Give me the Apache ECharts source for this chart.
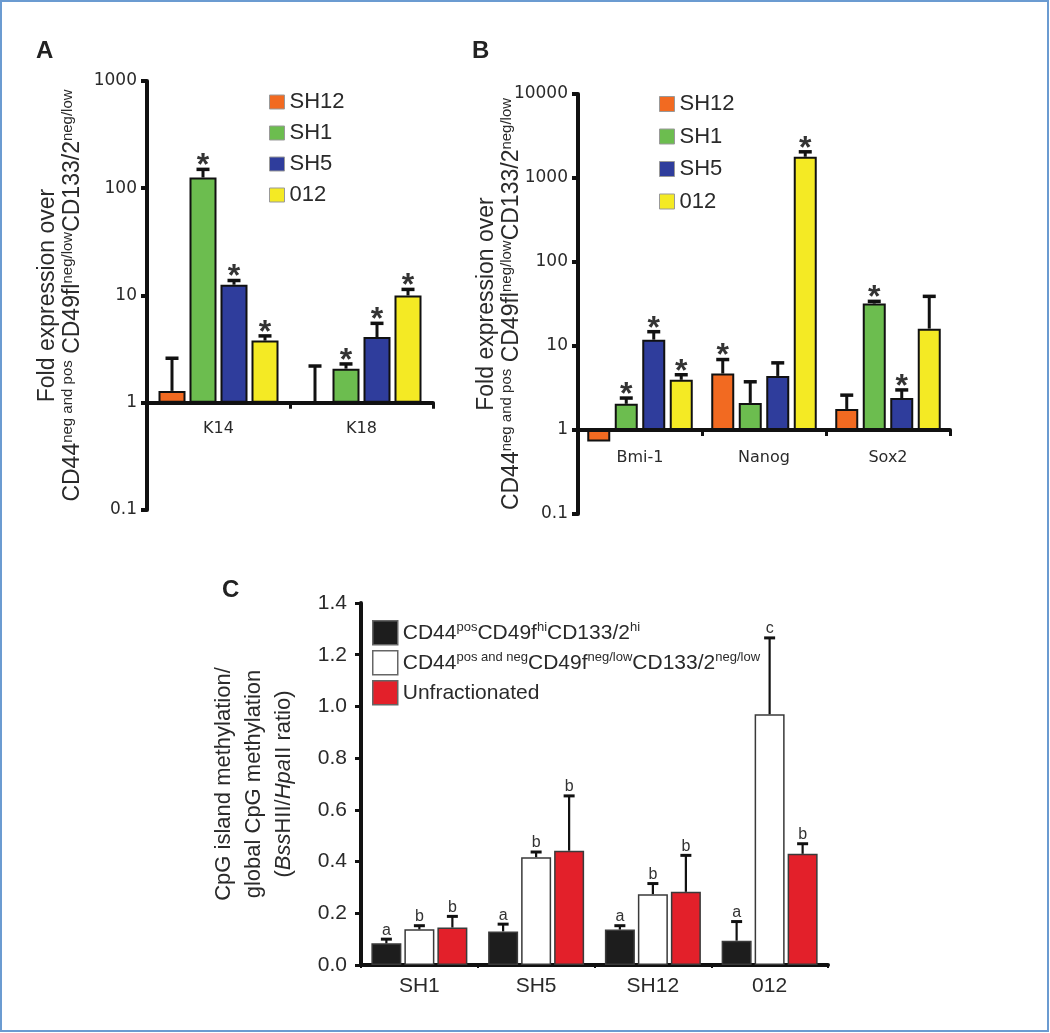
<!DOCTYPE html>
<html><head><meta charset="utf-8">
<script src="https://cdn.jsdelivr.net/npm/echarts@6/dist/echarts.min.js"></script>
<style>html,body{margin:0;padding:0;background:#fff}#c{width:1050px;height:1033px}</style>
</head><body><div id="c"></div>
<script>
// ---------- data ----------
const seriesAB = ['SH12', 'SH1', 'SH5', '012'];

const catsA = ['K14', 'K18'];
const aSH12 = [1.29, 1.0];
const aSH1 = [126, 2.08];
const aSH5 = [12.6, 4.1];
const a012 = [3.8, 10.0];
const aSH12Err = [2.6, 2.2];
const aSH1Err = [150, 2.3];
const aSH5Err = [13.8, 5.5];
const a012Err = [4.2, 11.4];
const aSH12Star = ['', ''];
const aSH1Star = ['*', '*'];
const aSH5Star = ['*', '*'];
const a012Star = ['*', '*'];

const catsB = ['Bmi-1', 'Nanog', 'Sox2'];
const bSH12 = [0.73, 4.7, 1.78];
const bSH1 = [2.05, 2.1, 32];
const bSH5 = [11.9, 4.4, 2.4];
const b012 = [3.96, 1790, 16.1];
const bSH12Err = [null, 6.9, 2.6];
const bSH1Err = [2.4, 3.75, 34];
const bSH5Err = [14.8, 6.3, 3.0];
const b012Err = [4.55, 2050, 39];
const bSH12Star = ['', '*', ''];
const bSH1Star = ['*', '', '*'];
const bSH5Star = ['*', '', '*'];
const b012Star = ['*', '*', ''];

const catsC = ['SH1', 'SH5', 'SH12', '012'];
const seriesC = ['CD44posCD49fhiCD133/2hi', 'CD44pos and negCD49fneg/lowCD133/2neg/low', 'Unfractionated'];
const cHi = [0.084, 0.13, 0.137, 0.094];
const cNeg = [0.138, 0.417, 0.274, 0.97];
const cUnf = [0.145, 0.442, 0.283, 0.43];
const cHiErr = [0.1, 0.158, 0.152, 0.168];
const cNegErr = [0.152, 0.437, 0.315, 1.265];
const cUnfErr = [0.188, 0.654, 0.424, 0.469];
const cHiLetter = ['a', 'a', 'a', 'a'];
const cNegLetter = ['b', 'b', 'b', 'c'];
const cUnfLetter = ['b', 'b', 'b', 'b'];

// ---------- styles ----------
const colorsAB = ['#f26a21', '#6cbd4f', '#2f3d9c', '#f4ea24'];
const colorsC = ['#1d1d1d', '#ffffff', '#e3202a'];
const SANS = 'Liberation Sans';
const VERD = 'DejaVu Sans';
const INK = '#111';
const TXT = '#2a2a2a';

const A = { left: 147, top: 81, width: 286, height: 429, min: 0.1, max: 1000, bw: 27, gap: 4 };
const B = { left: 578, top: 94, width: 372, height: 420, min: 0.1, max: 10000, bw: 23, gap: 4.5 };
const C = { left: 361, top: 603, width: 467, height: 362, bw: 30, gap: 3 };

function logOffset(p) {
  return -p.height * (0 - Math.log10(p.min)) / (Math.log10(p.max) - Math.log10(p.min));
}
function logFmt(v) {
  const r = Math.round(Math.log10(v));
  return String(+Math.pow(10, r).toFixed(Math.max(0, -r)));
}

function barSeries(name, data, color, gi, p, border) {
  return {
    type: 'bar', name, data, xAxisIndex: gi, yAxisIndex: gi,
    barWidth: p.bw, barGap: (p.gap / p.bw * 100) + '%',
    itemStyle: { color, borderColor: border.c, borderWidth: border.w },
    z: 2, silent: true, animation: false
  };
}

function errSeries(name, data, errs, marks, k, n, gi, p, o) {
  return {
    type: 'custom', name: name + ' err', xAxisIndex: gi, yAxisIndex: gi, z: 5,
    silent: true, animation: false,
    data: data.map((v, i) => [i, v]),
    renderItem(params, api) {
      const idx = params.dataIndex;
      const v = data[idx], e = errs[idx], mark = marks[idx];
      const pt = api.coord([idx, v]);
      const x = pt[0] + (k - (n - 1) / 2) * (p.bw + p.gap);
      const yv = pt[1];
      const children = [];
      let topY = Math.min(yv, api.coord([idx, p.base])[1]);
      if (e != null) {
        const ye = api.coord([idx, e])[1];
        children.push({ type: 'line', shape: { x1: x, y1: yv, x2: x, y2: ye }, style: { stroke: INK, lineWidth: o.stem } });
        children.push({ type: 'line', shape: { x1: x - o.cap / 2, y1: ye, x2: x + o.cap / 2, y2: ye }, style: { stroke: INK, lineWidth: o.capW } });
        topY = ye;
      }
      if (mark) {
        children.push({ type: 'text', style: { text: mark, x, y: topY + o.dy, align: 'center', verticalAlign: o.va, font: o.font, fill: o.fill } });
      }
      return { type: 'group', children };
    }
  };
}

A.base = 1; B.base = 1; C.base = 0;
const starOpt = { stem: 3, cap: 13, capW: 3.5, dy: -3, va: 'middle', font: 'bold 32px ' + SANS, fill: '#333' };
const letterOpt = { stem: 2.2, cap: 11, capW: 3, dy: -1, va: 'bottom', font: '16px ' + SANS, fill: '#333' };

const series = [];
const aVals = [aSH12, aSH1, aSH5, a012], aErrs = [aSH12Err, aSH1Err, aSH5Err, a012Err], aStars = [aSH12Star, aSH1Star, aSH5Star, a012Star];
const bVals = [bSH12, bSH1, bSH5, b012], bErrs = [bSH12Err, bSH1Err, bSH5Err, b012Err], bStars = [bSH12Star, bSH1Star, bSH5Star, b012Star];
seriesAB.forEach((nm, k) => {
  series.push(barSeries(nm, aVals[k], colorsAB[k], 0, A, { c: INK, w: 2 }));
  series.push(errSeries(nm, aVals[k], aErrs[k], aStars[k], k, 4, 0, A, starOpt));
});
seriesAB.forEach((nm, k) => {
  series.push(barSeries(nm, bVals[k], colorsAB[k], 1, B, { c: INK, w: 2 }));
  series.push(errSeries(nm, bVals[k], bErrs[k], bStars[k], k, 4, 1, B, starOpt));
});
const cVals = [cHi, cNeg, cUnf], cErrs = [cHiErr, cNegErr, cUnfErr], cLets = [cHiLetter, cNegLetter, cUnfLetter];
seriesC.forEach((nm, k) => {
  series.push(barSeries(nm, cVals[k], colorsC[k], 2, C, { c: '#3a3a3a', w: 1.5 }));
  series.push(errSeries(nm, cVals[k], cErrs[k], cLets[k], k, 3, 2, C, letterOpt));
});

const richMain = {
  t: { fontSize: 23, fontFamily: SANS, color: TXT, lineHeight: 25 },
  s: { fontSize: 15, fontFamily: SANS, color: TXT, lineHeight: 14, verticalAlign: 'top' }
};
const abName = '{t|Fold expression over}\n{t|CD44}{s|neg and pos}{t| CD49fl}{s|neg/low}{t|CD133/2}{s|neg/low}';

function yLog(gi, p, nameGap, moveOverlap) {
  return {
    type: 'log', gridIndex: gi, logBase: 10, min: p.min, max: p.max,
    axisLine: { show: true, lineStyle: { color: INK, width: 4 } },
    axisTick: { show: true, length: 6, lineStyle: { color: INK, width: 4 } },
    minorTick: { show: false }, splitLine: { show: false },
    axisLabel: { fontSize: 17, fontFamily: VERD, color: TXT, margin: 10, formatter: logFmt },
    name: abName, nameLocation: 'middle', nameRotate: 90, nameGap,
    nameMoveOverlap: moveOverlap,
    nameTextStyle: { rich: richMain, align: 'center' }
  };
}
function xCat(gi, cats, offset, margin) {
  return {
    type: 'category', gridIndex: gi, data: cats, offset,
    axisLine: { show: true, lineStyle: { color: INK, width: 4 } },
    axisTick: { show: true, length: 6, interval: 0, lineStyle: { color: INK, width: 3 } },
    axisLabel: { fontSize: 16, fontFamily: VERD, color: TXT, margin, interval: 0 },
    splitLine: { show: false }
  };
}

const legendRich = {
  t: { fontSize: 21, fontFamily: SANS, color: TXT, lineHeight: 24 },
  s: { fontSize: 13, fontFamily: SANS, color: TXT, lineHeight: 12, verticalAlign: 'top' }
};
const legendCText = {
  'CD44posCD49fhiCD133/2hi': '{t|CD44}{s|pos}{t|CD49f}{s|hi}{t|CD133/2}{s|hi}',
  'CD44pos and negCD49fneg/lowCD133/2neg/low': '{t|CD44}{s|pos and neg}{t|CD49f}{s|neg/low}{t|CD133/2}{s|neg/low}',
  'Unfractionated': '{t|Unfractionated}'
};

const option = {
  backgroundColor: '#ffffff',
  animation: false,
  grid: [
    { left: A.left, top: A.top, width: A.width, height: A.height },
    { left: B.left, top: B.top, width: B.width, height: B.height },
    { left: C.left, top: C.top, width: C.width, height: C.height }
  ],
  xAxis: [
    xCat(0, catsA, logOffset(A), 18),
    xCat(1, catsB, logOffset(B), 20),
    {
      type: 'category', gridIndex: 2, data: catsC,
      axisLine: { show: true, lineStyle: { color: INK, width: 4 } },
      axisTick: { show: true, length: 3, interval: 0, lineStyle: { color: INK, width: 2 } },
      axisLabel: { fontSize: 21, fontFamily: SANS, color: TXT, margin: 11 },
      splitLine: { show: false }
    }
  ],
  yAxis: [
    yLog(0, A, 62, true),
    yLog(1, B, 54, false),
    {
      type: 'value', gridIndex: 2, min: 0, max: 1.4, interval: 0.2,
      axisLine: { show: true, lineStyle: { color: INK, width: 4 } },
      axisTick: { show: true, length: 6, lineStyle: { color: INK, width: 3 } },
      splitLine: { show: false },
      axisLabel: { fontSize: 21, fontFamily: SANS, color: TXT, margin: 14, formatter: v => v.toFixed(1) },
      name: '{t|CpG island methylation/}\n{t|global CpG methylation}\n{t|(}{i|Bss}{t|HII/}{i|Hpa}{t|II ratio)}',
      nameLocation: 'middle', nameRotate: 90, nameGap: 62,
      nameTextStyle: {
        align: 'center',
        rich: {
          t: { fontSize: 22, fontFamily: SANS, color: TXT, lineHeight: 30 },
          i: { fontSize: 22, fontFamily: SANS, color: TXT, lineHeight: 30, fontStyle: 'italic' }
        }
      }
    }
  ],
  legend: [
    {
      data: seriesAB, orient: 'vertical', left: 269, top: 91, padding: 0,
      itemWidth: 15, itemHeight: 14, itemGap: 9, selectedMode: false, icon: 'rect',
      itemStyle: { borderColor: '#999', borderWidth: 1 },
      textStyle: { fontSize: 22, fontFamily: SANS, color: TXT }
    },
    {
      data: seriesAB, orient: 'vertical', left: 659, top: 93, padding: 0,
      itemWidth: 15, itemHeight: 15, itemGap: 10.5, selectedMode: false, icon: 'rect',
      itemStyle: { borderColor: '#999', borderWidth: 1 },
      textStyle: { fontSize: 22, fontFamily: SANS, color: TXT }
    },
    {
      data: seriesC, orient: 'vertical', left: 372, top: 620, padding: 0,
      itemWidth: 25, itemHeight: 24, itemGap: 4.5, selectedMode: false, icon: 'rect',
      itemStyle: { borderColor: '#666', borderWidth: 1.5 },
      formatter: nm => legendCText[nm],
      textStyle: { rich: legendRich }
    }
  ],
  graphic: [
    { type: 'rect', shape: { x: 1, y: 1, width: 1047, height: 1030 }, style: { fill: 'none', stroke: '#6b9bd1', lineWidth: 2 }, silent: true },
    { type: 'text', left: 36, top: 39, style: { text: 'A', font: 'bold 24px ' + SANS, fill: '#222' } },
    { type: 'text', left: 472, top: 39, style: { text: 'B', font: 'bold 24px ' + SANS, fill: '#222' } },
    { type: 'text', left: 222, top: 578, style: { text: 'C', font: 'bold 24px ' + SANS, fill: '#222' } }
  ],
  series
};

const chart = echarts.init(document.getElementById('c'), null, { renderer: 'canvas' });
chart.setOption(option);
</script>
</body></html>
